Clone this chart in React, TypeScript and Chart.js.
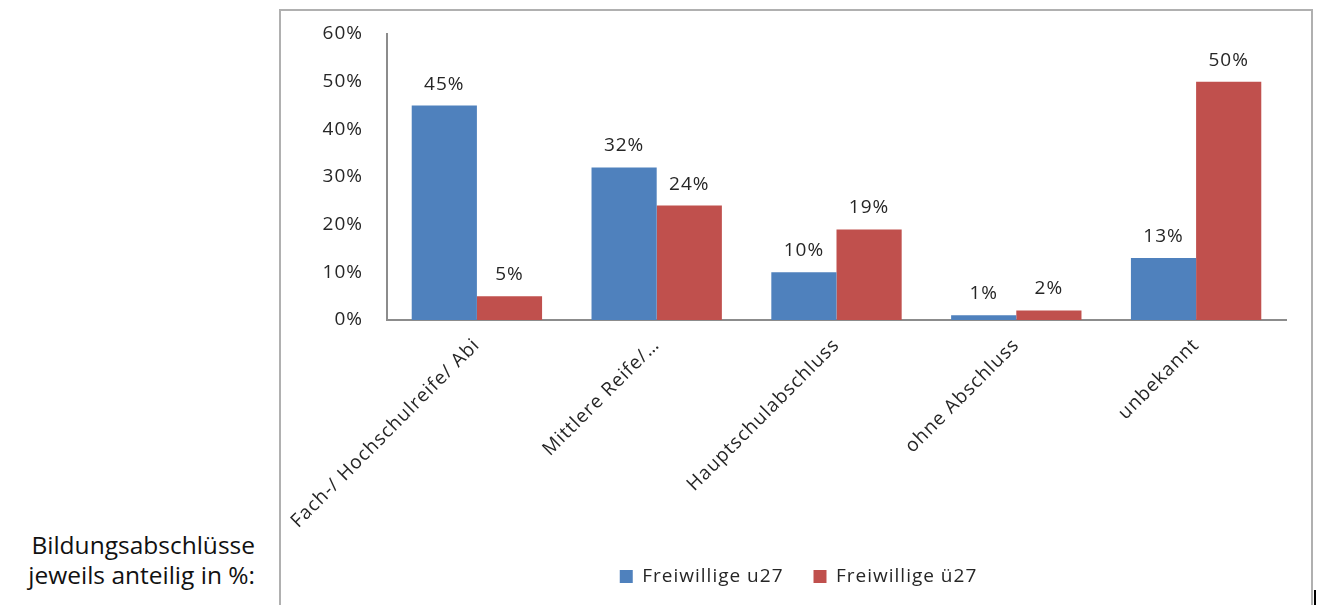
import React, { useEffect, useRef } from "react";
import { Chart, registerables } from "chart.js";

Chart.register(...registerables);

const categories = [
  "Fach-/ Hochschulreife/ Abi",
  "Mittlere Reife/…",
  "Hauptschulabschluss",
  "ohne Abschluss",
  "unbekannt",
];
const seriesNames = ["Freiwillige u27", "Freiwillige ü27"];
const valuesU27 = [45, 32, 10, 1, 13];
const valuesUe27 = [5, 24, 19, 2, 50];
const yTicks = { min: 0, max: 60, step: 10 };

const FONT = "'Open Sans', sans-serif";
const TEXT = "#262626";

const letterSpacingPlugin = {
  id: "letterSpacing",
  beforeLayout(chart: any) {
    chart.ctx.letterSpacing = "1px";
  },
  afterLayout(chart: any) {
    if (chart.legend) {
      chart.legend.left += 15;
      chart.legend.right += 15;
    }
  },
  beforeDraw(chart: any) {
    chart.ctx.letterSpacing = "1px";
  },
};

const valueLabelPlugin = {
  id: "valueLabels",
  afterDatasetsDraw(chart: any) {
    const ctx = chart.ctx;
    ctx.save();
    ctx.letterSpacing = "1px";
    ctx.font = `19px ${FONT}`;
    ctx.fillStyle = TEXT;
    ctx.textAlign = "center";
    ctx.textBaseline = "alphabetic";
    chart.data.datasets.forEach((ds: any, i: number) => {
      const meta = chart.getDatasetMeta(i);
      meta.data.forEach((el: any, j: number) => {
        ctx.fillText(`${ds.data[j]}%`, el.x, el.y - 16);
      });
    });
    ctx.restore();
  },
};

export default function App() {
  const ref = useRef<HTMLCanvasElement | null>(null);

  useEffect(() => {
    if (!ref.current) return;
    const chart = new Chart(ref.current, {
      type: "bar",
      data: {
        labels: categories,
        datasets: [
          {
            label: seriesNames[0],
            data: valuesU27,
            backgroundColor: "#4F81BD",
            borderWidth: 0,
            categoryPercentage: 0.725,
            barPercentage: 1,
          },
          {
            label: seriesNames[1],
            data: valuesUe27,
            backgroundColor: "#C0504D",
            borderWidth: 0,
            categoryPercentage: 0.725,
            barPercentage: 1,
          },
        ],
      },
      options: {
        animation: false,
        responsive: false,
        maintainAspectRatio: false,
        layout: { padding: { top: 22, right: 25, bottom: 6, left: 0 } },
        plugins: {
          tooltip: { enabled: false },
          legend: {
            position: "bottom",
            labels: {
              font: { family: FONT, size: 19 },
              color: TEXT,
              boxWidth: 13,
              boxHeight: 13,
              padding: 30,
            },
          },
        },
        scales: {
          x: {
            grid: { display: false, drawTicks: false },
            border: { display: true, color: "#8c8c8c", width: 2 },
            ticks: {
              font: { family: FONT, size: 19 },
              color: TEXT,
              minRotation: 45,
              maxRotation: 45,
              padding: 14,
              autoSkip: false,
            },
            afterFit(scale: any) {
              scale.height = 217;
              scale.paddingLeft = 0;
              scale.paddingRight = 0;
            },
          },
          y: {
            min: yTicks.min,
            max: yTicks.max,
            grid: { display: false, drawTicks: false },
            border: { display: true, color: "#8c8c8c", width: 2 },
            ticks: {
              stepSize: yTicks.step,
              font: { family: FONT, size: 19 },
              color: TEXT,
              padding: 24,
              callback: (v: any) => `${v}%`,
            },
            afterFit(scale: any) {
              scale.width = 106;
              scale.paddingTop = 0;
              scale.paddingBottom = 0;
            },
          },
        },
      },
      plugins: [letterSpacingPlugin, valueLabelPlugin],
    } as any);
    return () => chart.destroy();
  }, []);

  return (
    <div>
      <div
        style={{
          position: "absolute",
          left: 0,
          top: 530,
          width: 255,
          textAlign: "right",
          fontFamily: FONT,
          fontSize: 24.5,
          lineHeight: "30px",
          color: "#111",
        }}
      >
        Bildungsabschlüsse
        <br />
        jeweils anteilig in %:
      </div>
      <div
        style={{
          position: "absolute",
          left: 279,
          top: 9,
          width: 1034,
          height: 596,
          boxSizing: "border-box",
          borderTop: "2px solid #b0b0b0",
          borderLeft: "2px solid #b0b0b0",
          borderRight: "2px solid #b0b0b0",
          overflow: "hidden",
        }}
      >
        <canvas
          ref={ref}
          width={1030}
          height={590}
          style={{ position: "absolute", left: 0, top: 1, width: 1030, height: 590 }}
        />
      </div>
      <div
        style={{
          position: "absolute",
          left: 1314,
          top: 590,
          width: 2,
          height: 15,
          background: "#000",
        }}
      />
    </div>
  );
}
